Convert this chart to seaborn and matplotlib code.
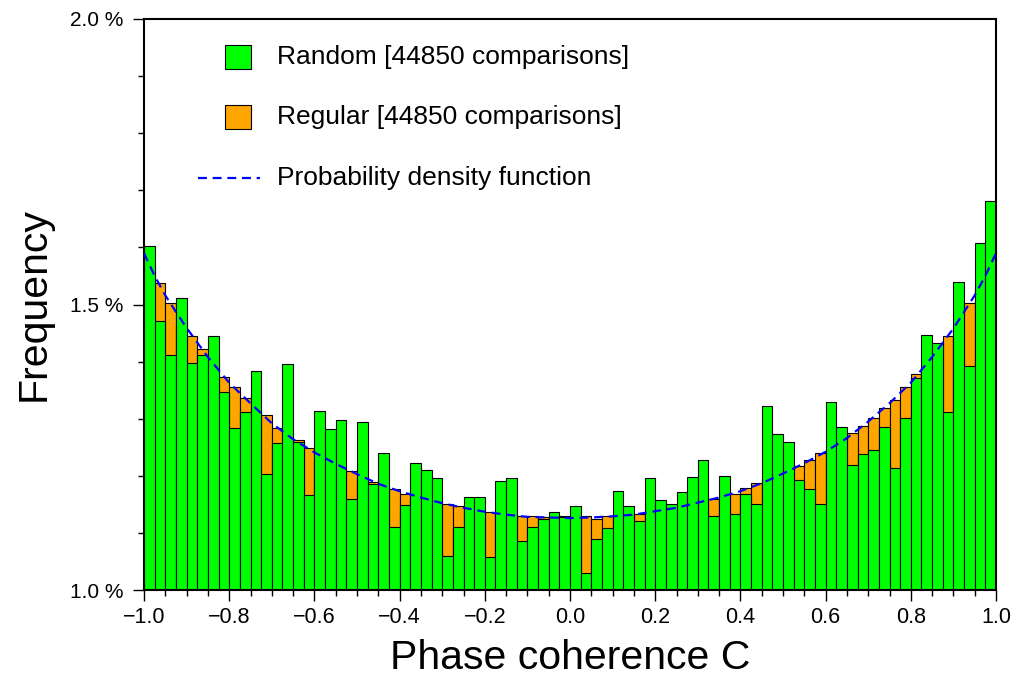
import numpy as np
import pandas as pd
import matplotlib
matplotlib.use("Agg")
import matplotlib.pyplot as plt
import seaborn as sns
from matplotlib.patches import Rectangle
from matplotlib.ticker import MultipleLocator, FuncFormatter

# 80 bins of width 0.025 between -1 and 1, values in percent
n_bins = 80
bin_centers = np.linspace(-1.0, 1.0, n_bins + 1)[:-1] + 0.0125

random_freq = [
    1.602, 1.471, 1.411, 1.511, 1.397, 1.411, 1.444, 1.346, 1.284, 1.312,
    1.384, 1.204, 1.257, 1.395, 1.259, 1.166, 1.313, 1.282, 1.298, 1.160,
    1.295, 1.186, 1.240, 1.110, 1.148, 1.222, 1.211, 1.196, 1.060, 1.110,
    1.162, 1.162, 1.058, 1.191, 1.197, 1.085, 1.111, 1.124, 1.137, 1.127,
    1.147, 1.029, 1.090, 1.108, 1.173, 1.147, 1.120, 1.197, 1.158, 1.150,
    1.171, 1.198, 1.227, 1.130, 1.200, 1.133, 1.169, 1.151, 1.322, 1.273,
    1.260, 1.193, 1.177, 1.151, 1.329, 1.286, 1.219, 1.239, 1.246, 1.286,
    1.213, 1.302, 1.371, 1.447, 1.433, 1.311, 1.539, 1.393, 1.607, 1.682,
]

regular_freq = [
    1.570, 1.537, 1.502, 1.470, 1.444, 1.422, 1.410, 1.373, 1.355, 1.337,
    1.310, 1.306, 1.284, 1.260, 1.262, 1.248, 1.230, 1.220, 1.200, 1.208,
    1.190, 1.190, 1.180, 1.177, 1.169, 1.160, 1.150, 1.150, 1.151, 1.147,
    1.140, 1.130, 1.137, 1.130, 1.120, 1.129, 1.129, 1.128, 1.120, 1.130,
    1.120, 1.129, 1.124, 1.129, 1.120, 1.130, 1.133, 1.130, 1.140, 1.140,
    1.140, 1.150, 1.150, 1.160, 1.160, 1.169, 1.178, 1.187, 1.190, 1.200,
    1.210, 1.218, 1.227, 1.240, 1.240, 1.260, 1.275, 1.288, 1.302, 1.319,
    1.333, 1.355, 1.378, 1.390, 1.410, 1.444, 1.460, 1.502, 1.530, 1.580,
]

pdf_x = [-1.0, -0.975, -0.95, -0.925, -0.9, -0.85, -0.8, -0.75, -0.7, -0.65,
         -0.6, -0.55, -0.5, -0.45, -0.4, -0.35, -0.3, -0.25, -0.2, -0.15,
         -0.1, -0.05, 0.0, 0.05, 0.1, 0.15, 0.2, 0.25, 0.3, 0.35,
         0.4, 0.45, 0.5, 0.55, 0.6, 0.65, 0.7, 0.75, 0.8, 0.85,
         0.9, 0.925, 0.95, 0.975, 1.0]
pdf_y = [1.590, 1.550, 1.516, 1.487, 1.459, 1.408, 1.363, 1.327, 1.292, 1.264,
         1.241, 1.221, 1.203, 1.186, 1.173, 1.162, 1.152, 1.144, 1.137, 1.132,
         1.128, 1.127, 1.126, 1.127, 1.129, 1.132, 1.138, 1.144, 1.153, 1.162,
         1.173, 1.187, 1.204, 1.222, 1.242, 1.266, 1.295, 1.327, 1.363, 1.408,
         1.458, 1.487, 1.516, 1.550, 1.590]

labels = ["Random [44850 comparisons]", "Regular [44850 comparisons]",
          "Probability density function"]

sns.set_theme(style="ticks")
plt.rcParams['font.family'] = ['Liberation Sans', 'DejaVu Sans']

fig = plt.figure(figsize=(10.16, 6.8), dpi=100)
ax = fig.add_axes([144 / 1016, 90 / 680, 852 / 1016, 571 / 680])

green = "#00ff00"
orange = "#ffa500"

df = pd.DataFrame({"C": bin_centers, "Random": random_freq, "Regular": regular_freq})

# regular first, random drawn on top of it
sns.histplot(data=df, x="C", weights="Regular", bins=n_bins, binrange=(-1, 1), ax=ax,
             color=orange, edgecolor="black", linewidth=0.8, alpha=1)
sns.histplot(data=df, x="C", weights="Random", bins=n_bins, binrange=(-1, 1), ax=ax,
             color=green, edgecolor="black", linewidth=0.8, alpha=1)
ax.plot(pdf_x, pdf_y, color="blue", linewidth=1.6, linestyle=(0, (4, 2.6)), zorder=5)

ax.set_xlim(-1, 1)
ax.set_ylim(1.0, 2.0)
ax.xaxis.set_major_locator(MultipleLocator(0.2))
ax.xaxis.set_minor_locator(MultipleLocator(0.05))
ax.yaxis.set_major_locator(MultipleLocator(0.5))
ax.yaxis.set_minor_locator(MultipleLocator(0.1))
ax.xaxis.set_major_formatter(FuncFormatter(lambda v, p: f"{v:.1f}".replace("-", "\u2212")))
ax.yaxis.set_major_formatter(FuncFormatter(lambda v, p: f"{v:.1f} %"))
ax.tick_params(which="major", length=8, width=1.0, color="black",
               labelcolor="black")
ax.tick_params(axis="x", which="major", labelsize=15.5, pad=4)
ax.tick_params(axis="y", which="major", labelsize=15, pad=7)
ax.tick_params(which="minor", length=4.5, width=1.0, color="black")
ax.tick_params(top=False, right=False, which="both")
for s in ax.spines.values():
    s.set_visible(True)
    s.set_linewidth(1.5)
    s.set_color("black")

ax.set_xlabel("Phase coherence C", fontsize=29.5, labelpad=8, color="black")
ax.set_ylabel("Frequency", fontsize=29.5, labelpad=12, color="black")

# legend drawn by hand
ax.add_patch(Rectangle((0.0951, 0.9124), 0.0305, 0.042, transform=ax.transAxes,
                       facecolor=green, edgecolor="black", linewidth=0.8, zorder=6))
ax.add_patch(Rectangle((0.0951, 0.8074), 0.0305, 0.042, transform=ax.transAxes,
                       facecolor=orange, edgecolor="black", linewidth=0.8, zorder=6))
ax.plot([0.0634, 0.1362], [0.7215, 0.7215], transform=ax.transAxes, color="blue",
        linewidth=1.6, linestyle=(0, (4, 2.6)), zorder=6)
for yy, lab in zip([0.9334, 0.8284, 0.7215], labels):
    ax.text(0.156, yy, lab, transform=ax.transAxes, fontsize=19, va="center",
            ha="left", color="black", zorder=6)

fig.savefig("out.png", dpi=100)
